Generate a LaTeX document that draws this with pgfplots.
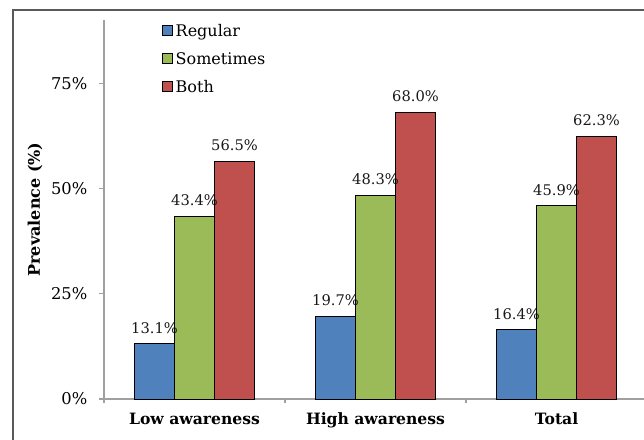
\documentclass[border=0pt]{standalone}
\usepackage{pgfplots}
\pgfplotsset{compat=1.18}
\usepackage{fontspec}
\setmainfont{DejaVu Serif}
\definecolor{cblue}{HTML}{4F81BD}
\definecolor{cgreen}{HTML}{9BBB59}
\definecolor{cred}{HTML}{C0504D}
\definecolor{axgray}{HTML}{A0A0A0}
\begin{document}
\begin{tikzpicture}
\begin{axis}[
  at={(78pt,30.75pt)}, anchor=south west,
  scale only axis, width=407.25pt, height=284.25pt,
  ybar=0pt, bar width=30pt,
  xmin=-0.5, xmax=2.5, ymin=0, ymax=90,
  axis x line*=bottom, axis y line*=left,
  x axis line style={-, draw=axgray, line width=0.8pt},
  y axis line style={-, draw=axgray, line width=0.8pt},
  xtick={0,1,2},
  xticklabels={Low awareness, High awareness, Total},
  major x tick style={draw=none},
  minor xtick={-0.5,0.5,1.5,2.5},
  minor tick length=3pt,
  minor x tick style={draw=axgray, line width=0.8pt},
  ytick={0,25,50,75},
  yticklabel={\pgfmathprintnumber{\tick}\%},
  ytick style={draw=axgray, line width=0.8pt},
  major tick length=4pt,
  tick align=outside,
  /pgf/number format/assume math mode=true,
  yticklabel style={font=\fontsize{12.2}{14}\selectfont, xshift=-5pt},
  xticklabel style={font=\bfseries\fontsize{11.7}{13}\selectfont, yshift=-3pt},
  ylabel={Prevalence (\%)},
  ylabel style={font=\bfseries\fontsize{12}{13}\selectfont, at={(axis description cs:-0.127,0.5)}, anchor=center},
  nodes near coords={\pgfmathprintnumber[fixed,fixed zerofill,precision=1]{\pgfplotspointmeta}\%},
  every node near coord/.append style={font=\fontsize{11}{12}\selectfont, anchor=south, inner sep=0pt, yshift=7.5pt, text=black!90},
  legend style={at={(axis description cs:0.1068,0.997)}, anchor=north west, draw=none, fill=none,
    font=\fontsize{12}{13}\selectfont, row sep=6.5pt, inner sep=0pt, cells={anchor=west}},
  legend image code/.code={\draw[#1, draw=black, line width=0.6pt] (-1.5pt,-3.5pt) rectangle (6pt,4pt);},
  clip=false,
]
\addplot[fill=cblue, draw=black, line width=0.7pt] coordinates {(0,13.1) (1,19.7) (2,16.4)};
\addplot[fill=cgreen, draw=black, line width=0.7pt] coordinates {(0,43.4) (1,48.3) (2,45.9)};
\addplot[fill=cred, draw=black, line width=0.7pt] coordinates {(0,56.5) (1,68.0) (2,62.3)};
\legend{Regular, Sometimes, Both}
\end{axis}
\draw[draw=black!65, line width=0.9pt] (9.75pt,0pt) -- (9.75pt,322.5pt) -- (483pt,322.5pt);
\pgfresetboundingbox
\path[use as bounding box] (0,0) rectangle (483pt,330pt);
\end{tikzpicture}
\end{document}
